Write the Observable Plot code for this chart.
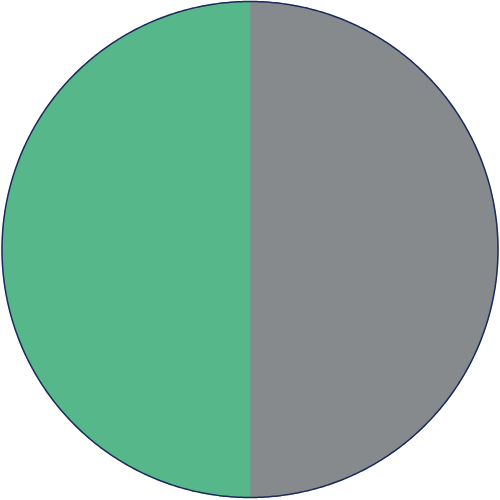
<!DOCTYPE html>
<html><head><meta charset="utf-8">
<script src="https://cdn.jsdelivr.net/npm/d3@7"></script>
<script src="https://cdn.jsdelivr.net/npm/@observablehq/plot@0.6"></script>
<style>body{margin:0;background:#fff}</style>
</head><body><div id="chart"></div>
<script>
const categories = ["B", "A"];
const values = [50, 50];
const colors = ["#868a8d", "#55b78a"];

const pie = d3.pie().sort(null).value(d => d.value)(categories.map((c, i) => ({cat: c, value: values[i], color: colors[i]})));
const pts = [];
pie.forEach(s => {
  const n = 180;
  pts.push({cat: s.data.cat, color: s.data.color, x: 0, y: 0});
  for (let k = 0; k <= n; k++) {
    const a = s.startAngle + (s.endAngle - s.startAngle) * k / n;
    pts.push({cat: s.data.cat, color: s.data.color, x: Math.sin(a), y: Math.cos(a)});
  }
  pts.push({cat: s.data.cat, color: s.data.color, x: 0, y: 0});
});
const ring = d3.range(0, 721).map(k => ({x: Math.sin(2 * Math.PI * k / 720), y: Math.cos(2 * Math.PI * k / 720)}));

const chart = Plot.plot({
  width: 500, height: 500,
  margin: 0,
  x: {domain: [-1, 1], range: [1.5, 497.5], axis: null},
  y: {domain: [-1, 1], range: [497, 1], axis: null},
  marks: [
    Plot.line(pts, {x: "x", y: "y", z: "cat", fill: d => d.color, stroke: d => d.color, strokeWidth: 0.5, curve: "linear"}),
    Plot.line(ring, {x: "x", y: "y", stroke: "#1b2a5c", strokeWidth: 1.5})
  ]
});
document.getElementById("chart").appendChild(chart);
</script>
</body></html>
